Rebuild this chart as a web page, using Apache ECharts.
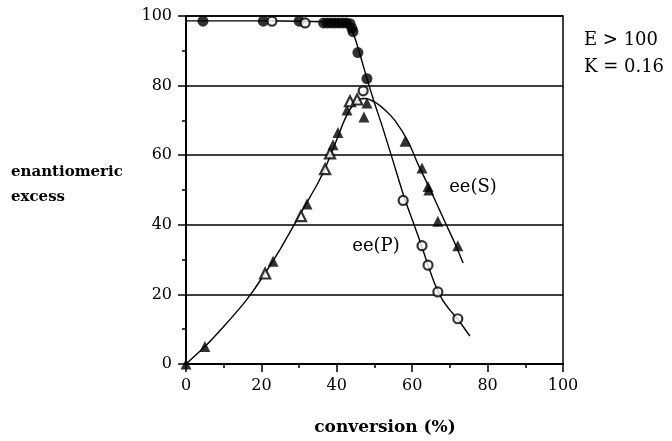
<!DOCTYPE html>
<html>
<head>
<meta charset="utf-8">
<script src="https://cdn.jsdelivr.net/npm/echarts@6/dist/echarts.min.js"></script>
<style>
html,body{margin:0;padding:0;background:#fff;}
#chart{width:672px;height:441px;}
</style>
</head>
<body>
<div id="chart"></div>
<script>
// ee(P): circles (filled = run 1, open = run 2)
const eePFilled = [[4.5,98.5],[20.5,98.5],[30,98.5],[36.5,98],[37.5,98],[38.5,98],[39.5,98],[40.5,98],[41.5,98],[42.5,98],[43.5,97.8],[44,96.5],[44.3,95.5],[45.6,89.5],[48,82]];
const eePOpen = [[22.8,98.5],[31.6,98],[47,78.5],[57.6,47],[62.6,34],[64.2,28.4],[66.8,20.7],[72.1,13]];
// ee(S): triangles
const eeSFilled = [[0,0],[5,5],[23.1,29.5],[32.1,46],[39,63],[40.3,66.5],[42.7,73],[47.2,71],[48,75],[58.1,64],[62.6,56.3],[64.2,51],[64.4,50],[66.8,41],[72.1,34]];
const eeSOpen = [[21,26],[30.5,42.5],[36.9,56],[38.2,60.5],[43.5,75.5],[45.4,76]];
// fitted curves
const fitP = [[0,98.6],[10,98.6],[20,98.6],[30,98.5],[38,98.3],[41,97.8],[43,96.8],[44.5,94.5],[46,89.5],[48,82],[50,75],[52,68.5],[55,58],[58,47.5],[60,41.5],[62,35.5],[64,29],[66,23],[68,18.5],[70,15.5],[72,13],[75.3,8]];
const fitS = [[0,0],[5,5],[10,10.8],[15,17],[17.5,20.5],[20,24.5],[23,29.5],[25,33],[30,42.5],[32,46.3],[35,52],[37,56.5],[40,64.5],[42,70],[44,74],[46,76],[47.5,76.3],[50,75.3],[53,72.8],[55.4,70],[58.9,64],[61.5,57.5],[64.7,50.3],[68.7,40.8],[71.6,34],[73.5,29]];
const xTicks = [0,20,40,60,80,100];
const yTicks = [0,20,40,60,80,100];

const serif = 'DejaVu Serif';
const chart = echarts.init(document.getElementById('chart'));
chart.setOption({
  animation:false,
  backgroundColor:'#fff',
  grid:{left:186,right:109,top:16,bottom:77,show:true,borderColor:'#000',borderWidth:1.5,backgroundColor:'transparent'},
  xAxis:{type:'value',min:xTicks[0],max:xTicks[xTicks.length-1],interval:20,
    axisLine:{lineStyle:{color:'#000',width:2}},
    axisTick:{show:true,inside:false,length:8,lineStyle:{color:'#000',width:1.5}},
    minorTick:{show:true,splitNumber:2,length:4,lineStyle:{color:'#000',width:1.5}},
    splitLine:{show:false},
    axisLabel:{color:'#000',fontFamily:serif,fontSize:16,margin:14}
  },
  yAxis:{type:'value',min:yTicks[0],max:yTicks[yTicks.length-1],interval:20,
    axisLine:{show:true,lineStyle:{color:'#000',width:2}},
    axisTick:{show:true,inside:false,length:8,lineStyle:{color:'#000',width:1.5}},
    minorTick:{show:true,splitNumber:2,length:4,lineStyle:{color:'#000',width:1.5}},
    splitLine:{show:true,lineStyle:{color:'#000',width:1.5}},
    axisLabel:{color:'#000',fontFamily:serif,fontSize:16,margin:14}
  },
  series:[
    {type:'line',data:fitP,smooth:0.25,showSymbol:false,symbol:'none',lineStyle:{color:'#000',width:1.4},z:2},
    {type:'line',data:fitS,smooth:0.25,showSymbol:false,symbol:'none',lineStyle:{color:'#000',width:1.4},z:2},
    {type:'scatter',data:eePFilled,symbol:'circle',symbolSize:11,itemStyle:{color:'#000'},z:5},
    {type:'scatter',data:eePOpen,symbol:'circle',symbolSize:9,itemStyle:{color:'#fff',borderColor:'#000',borderWidth:2.2},z:6},
    {type:'scatter',data:eeSFilled,symbol:'triangle',symbolSize:11,itemStyle:{color:'#000'},z:5},
    {type:'scatter',data:eeSOpen,symbol:'triangle',symbolSize:10,itemStyle:{color:'#fff',borderColor:'#000',borderWidth:2.2},z:6}
  ],
  graphic:[
    {type:'text',left:11,top:165,style:{text:'enantiomeric',fontFamily:serif,fontWeight:'bold',fontSize:15,fill:'#000'}},
    {type:'text',left:11,top:190,style:{text:'excess',fontFamily:serif,fontWeight:'bold',fontSize:15,fill:'#000'}},
    {type:'text',x:385,y:428,style:{text:'conversion (%)',fontFamily:serif,fontWeight:'bold',fontSize:17,fill:'#000',align:'center',verticalAlign:'middle'}},
    {type:'text',x:584,y:40,style:{text:'E > 100',fontFamily:serif,fontSize:18,fill:'#000',verticalAlign:'middle'}},
    {type:'text',x:584,y:67,style:{text:'K = 0.16',fontFamily:serif,fontSize:18,fill:'#000',verticalAlign:'middle'}},
    {type:'text',x:473,y:187,style:{text:'ee(S)',fontFamily:serif,fontSize:18,fill:'#000',align:'center',verticalAlign:'middle'}},
    {type:'text',x:376,y:246,style:{text:'ee(P)',fontFamily:serif,fontSize:18,fill:'#000',align:'center',verticalAlign:'middle'}}
  ]
});
</script>
</body>
</html>
